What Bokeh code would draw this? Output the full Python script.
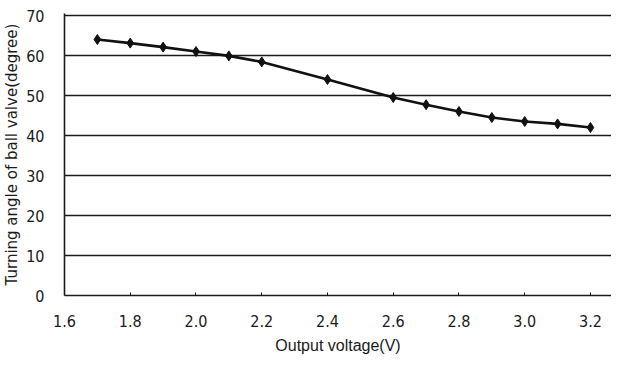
from bokeh.plotting import figure
from bokeh.models import FixedTicker, NumeralTickFormatter, Range1d
from bokeh.embed import file_html
from bokeh.resources import INLINE

# data
voltage = [1.7, 1.8, 1.9, 2.0, 2.1, 2.2, 2.4, 2.6, 2.7, 2.8, 2.9, 3.0, 3.1, 3.2]
angle = [64.0, 63.1, 62.1, 61.0, 59.9, 58.4, 54.0, 49.5, 47.7, 46.0, 44.5, 43.5, 42.9, 42.0]
x_ticks = [1.6, 1.8, 2.0, 2.2, 2.4, 2.6, 2.8, 3.0, 3.2]
y_ticks = [0, 10, 20, 30, 40, 50, 60, 70]

TICK_FONT = "Liberation Sans Narrow, DejaVu Sans Condensed, Arial Narrow, Liberation Sans"

p = figure(width=611, height=357, output_backend="svg", toolbar_location=None,
           x_range=Range1d(1.6, 3.264), y_range=Range1d(0, 70.5),
           min_border_left=64, min_border_right=0, min_border_top=13, min_border_bottom=62)

p.outline_line_color = None
p.background_fill_color = "white"
p.border_fill_color = "white"

p.xgrid.grid_line_color = None
p.ygrid.grid_line_color = "#1a1a1a"
p.ygrid.grid_line_width = 1.6

p.xaxis.ticker = FixedTicker(ticks=x_ticks)
p.yaxis.ticker = FixedTicker(ticks=y_ticks)
p.xaxis.formatter = NumeralTickFormatter(format="0.0")

for ax in (p.xaxis, p.yaxis):
    ax.axis_line_color = "#1a1a1a"
    ax.axis_line_width = 1.6
    ax.minor_tick_line_color = None
    ax.major_label_text_font = TICK_FONT
    ax.major_label_text_font_size = "16px"
    ax.major_label_text_color = "#1a1a1a"
    ax.axis_label_text_font_style = "normal"
    ax.axis_label_text_color = "#1a1a1a"

p.xaxis.major_tick_in = 3
p.xaxis.major_tick_out = 0
p.xaxis.major_tick_line_color = "#1a1a1a"
p.xaxis.major_label_standoff = 19
p.xaxis.axis_label = "Output voltage(V)"
p.xaxis.axis_label_text_font = "Liberation Sans"
p.xaxis.axis_label_text_font_size = "16px"
p.xaxis.axis_label_standoff = 7

p.yaxis.major_tick_in = 0
p.yaxis.major_tick_out = 0
p.yaxis.major_label_standoff = 20
p.yaxis.axis_label = "Turning angle of ball valve(degree)"
p.yaxis.axis_label_text_font = "DejaVu Sans"
p.yaxis.axis_label_text_font_size = "15px"
p.yaxis.axis_label_standoff = 2

p.line(voltage, angle, line_color="#111111", line_width=2.6)
p.scatter(voltage, angle, marker="diamond", size=10, fill_color="#111111", line_color="#111111")

open("out.html", "w").write(file_html(p, INLINE))
